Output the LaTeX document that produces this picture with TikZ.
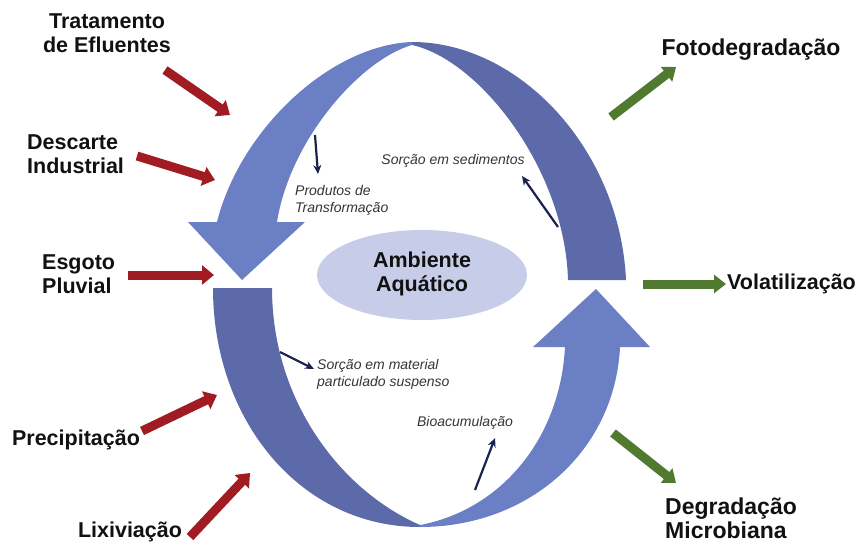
\documentclass[tikz,border=0pt]{standalone}
\usepackage{fontspec}
\setmainfont{Liberation Sans}
\usetikzlibrary{arrows.meta}
\definecolor{bluelight}{HTML}{6B7FC4}
\definecolor{bluedark}{HTML}{5D6AAA}
\definecolor{ellfill}{HTML}{C7CCE8}
\definecolor{redarr}{HTML}{A01C22}
\definecolor{greenarr}{HTML}{4F7A30}
\definecolor{navy}{HTML}{1B2250}
\definecolor{txt}{HTML}{111111}
\begin{document}
\begin{tikzpicture}[x=1pt,y=-1pt,
  lab/.style={font=\bfseries\fontsize{21.5}{24}\selectfont, inner sep=0pt, text=txt},
  labR/.style={font=\bfseries\fontsize{23}{24}\selectfont, inner sep=0pt, text=txt},
  small/.style={font=\itshape\fontsize{14}{17}\selectfont, inner sep=0pt, text=txt!85},
  inarrow/.style={draw=redarr, line width=9pt, -{Triangle[length=12pt,width=19pt]}},
  outarrow/.style={draw=greenarr, line width=9pt, -{Triangle[length=12pt,width=18pt]}},
  thin/.style={draw=navy, line width=2.2pt, -{Stealth[length=9pt,width=8pt]}}]
\useasboundingbox (0,0) rectangle (858,543);

% top band, light part with head
\fill[bluelight] (412,42) .. controls (330,45) and (240,130) .. (217,222)
  -- (188,222) -- (242,280) -- (305,222) -- (277,222)
  .. controls (290,140) and (360,60) .. (412,45) -- cycle;
% top band, dark part
\fill[bluedark] (412,42) .. controls (520,42) and (620,150) .. (626,280)
  -- (568,280) .. controls (565,170) and (480,60) .. (412,45) -- cycle;
% lower band, dark part
\fill[bluedark] (213,288) .. controls (213,420) and (300,527) .. (420,527)
  -- (420,525) .. controls (340,490) and (272,400) .. (272,288) -- cycle;
% lower band, light part with head
\fill[bluelight] (420,527) .. controls (530,527) and (615,450) .. (620,347)
  -- (650,347) -- (596,289) -- (533,347) -- (565,347)
  .. controls (560,440) and (500,510) .. (420,525) -- cycle;

% central ellipse
\fill[ellfill] (422,275) ellipse [x radius=105, y radius=45];
\node[lab, align=center] (amb) at (422,274) {Ambiente\\Aquático};

% sources
\node[lab, align=center] (trat) at (107,33) {Tratamento\\de Efluentes};
\node[lab, align=left, anchor=west] (desc) at (27,154) {Descarte\\Industrial};
\node[lab, align=left, anchor=west] (esg) at (42,274) {Esgoto\\Pluvial};
\node[lab] (prec) at (76,440) {Precipitação};
\node[lab] (lix) at (130,532) {Lixiviação};

\coordinate (t1) at (165,70);  \coordinate (h1) at (230,115);
\coordinate (t2) at (137,156); \coordinate (h2) at (215,180);
\coordinate (t3) at (128,275); \coordinate (h3) at (214,275);
\coordinate (t4) at (142,431); \coordinate (h4) at (217,395);
\coordinate (t5) at (190,537); \coordinate (h5) at (250,473);
\draw[inarrow] (t1) -- (h1);
\draw[inarrow] (t2) -- (h2);
\draw[inarrow] (t3) -- (h3);
\draw[inarrow] (t4) -- (h4);
\draw[inarrow] (t5) -- (h5);

% sinks
\node[labR] (foto) at (751,50) {Fotodegradação};
\node[lab, anchor=west] (vol) at (727,284) {Volatilização};
\node[labR, align=left, anchor=west] (deg) at (665,518) {Degradação\\Microbiana};

\coordinate (g1a) at (611,117); \coordinate (g1b) at (676,67);
\coordinate (g2a) at (643,284); \coordinate (g2b) at (726,284);
\coordinate (g3a) at (613,433); \coordinate (g3b) at (676,483);
\draw[outarrow] (g1a) -- (g1b);
\draw[outarrow] (g2a) -- (g2b);
\draw[outarrow] (g3a) -- (g3b);

% inner processes
\node[small, align=left, anchor=west] (prod) at (295,200) {Produtos de\\Transformação};
\node[small] (sed) at (453,161) {Sorção em sedimentos};
\node[small, align=left, anchor=west] (mat) at (317,374) {Sorção em material\\particulado suspenso};
\node[small] (bio) at (465,423) {Bioacumulação};

\coordinate (n1a) at (315,135); \coordinate (n1b) at (318,174);
\coordinate (n2a) at (558,227); \coordinate (n2b) at (522,176);
\coordinate (n3a) at (280,352); \coordinate (n3b) at (314,369);
\coordinate (n4a) at (475,490); \coordinate (n4b) at (495,438);
\draw[thin] (n1a) -- (n1b);
\draw[thin] (n2a) -- (n2b);
\draw[thin] (n3a) -- (n3b);
\draw[thin] (n4a) -- (n4b);
\end{tikzpicture}
\end{document}
